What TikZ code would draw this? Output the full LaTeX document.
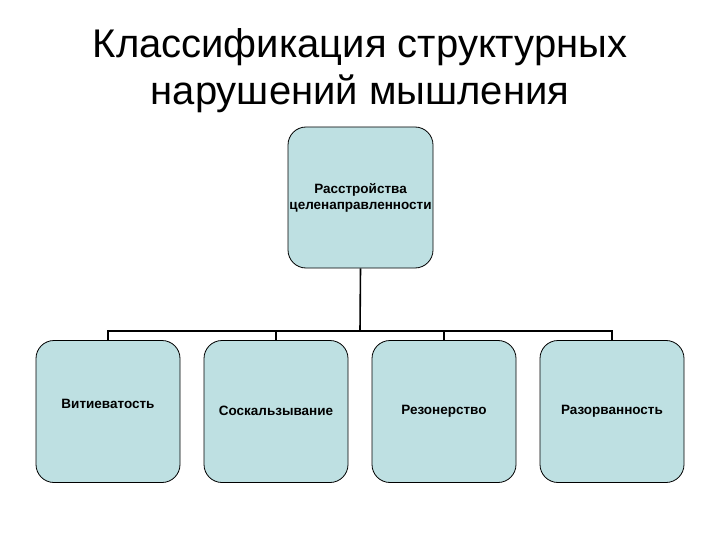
\documentclass[tikz,border=0pt]{standalone}
\usepackage{fontspec}
\setmainfont{Liberation Sans}
\definecolor{boxfill}{RGB}{190,224,226}
\begin{document}
\begin{tikzpicture}[x=1pt,y=-1pt,
  boxst/.style={draw=black,line width=0.8pt,fill=boxfill,rounded corners=18pt,minimum width=144pt,minimum height=142pt,inner sep=0pt},
  boxtext/.style={font=\bfseries\fontsize{13.5}{16}\selectfont,align=center,inner sep=0pt},
  conn/.style={draw=black,line width=1.6pt}]
\useasboundingbox (0,0) rectangle (720,540);
\node[font=\fontsize{40}{47}\selectfont,align=center] (title) at (360,71) {Классификация структурных\\нарушений мышления};
\node[boxst,minimum width=145pt,minimum height=141pt] (top) at (360.5,197.5) {};
\node[boxtext,font=\bfseries\fontsize{13.5}{16}\selectfont] (toptext) at (360.5,198) {Расстройства\\целенаправленности};
\node[boxst] (b1) at (108,411.5) {};
\node[boxst] (b2) at (276,411.5) {};
\node[boxst] (b3) at (444,411.5) {};
\node[boxst] (b4) at (612,411.5) {};
\node[boxtext] (t1) at (108,404) {Витиеватость};
\node[boxtext] (t2) at (276,411) {Соскальзывание};
\node[boxtext] (t3) at (444,411) {Резонерство};
\node[boxtext] (t4) at (612,411) {Разорванность};
\coordinate (j) at (360,331);
\draw[conn] (top.south) -- (j);
\draw[conn] (b1.north) -- (108,331) -- (612,331) -- (b4.north);
\draw[conn] (b2.north) -- (276,331);
\draw[conn] (b3.north) -- (444,331);
\end{tikzpicture}
\end{document}
